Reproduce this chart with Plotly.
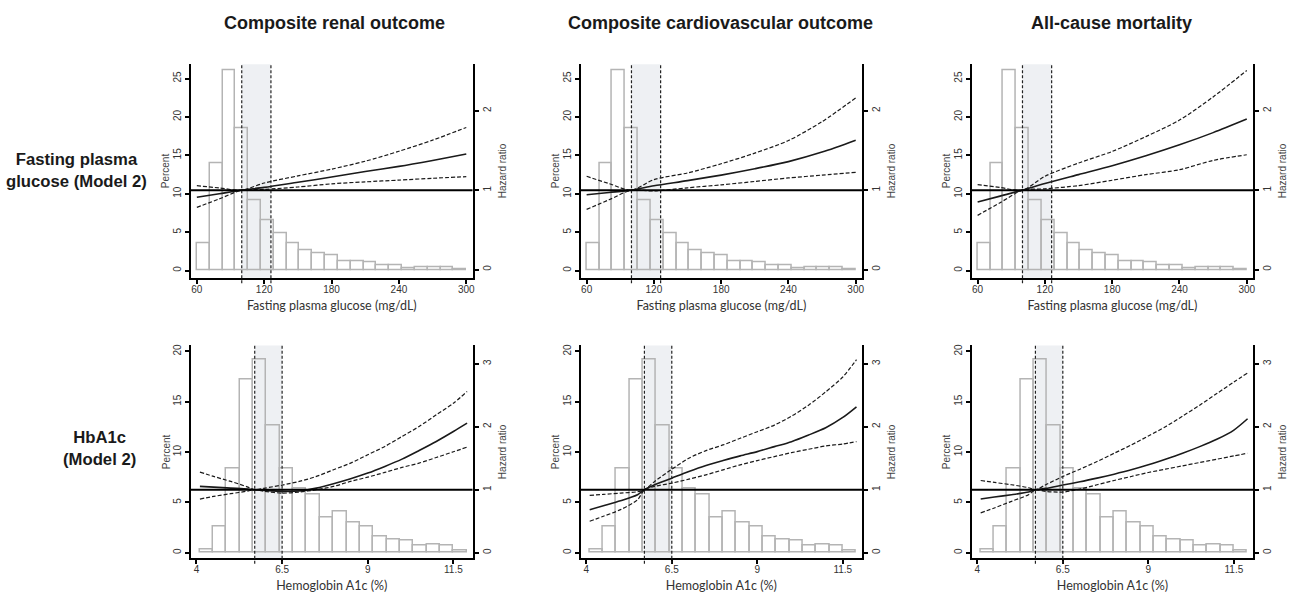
import plotly.graph_objects as go

# ---------------- data ----------------
col_titles = ["Composite renal outcome", "Composite cardiovascular outcome", "All-cause mortality"]
row_titles = ["Fasting plasma<br>glucose (Model 2)", "HbA1c<br>(Model 2)"]
x_titles = ["Fasting plasma glucose (mg/dL)", "Hemoglobin A1c (%)"]

# histogram of fasting plasma glucose (percent per bin)
fpg_bin_start = 60
fpg_bin_width = 240 / 21
fpg_pct = [3.5, 14.0, 26.1, 18.5, 9.1, 6.6, 4.85, 3.6, 2.6, 2.25, 1.95, 1.2, 1.25, 1.1,
           0.7, 0.65, 0.26, 0.48, 0.5, 0.4, 0.17]
fpg_cut = [100, 126]
fpg_ticks = [60, 120, 180, 240, 300]

# histogram of HbA1c (percent per bin)
a1c_bin_start = 4.09
a1c_bin_width = 0.39
a1c_pct = [0.33, 2.64, 8.36, 17.2, 19.2, 12.66, 8.36, 6.4, 5.8, 3.47, 4.07, 3.0, 2.58, 1.62,
           1.32, 1.19, 0.69, 0.83, 0.73, 0.26]
a1c_cut = [5.7, 6.5]
a1c_ticks = [4, 6.5, 9, 11.5]

# hazard ratio curves, fasting plasma glucose
fpg_x = [60, 80, 100, 120, 150, 180, 210, 240, 270, 300]
fpg_renal_hr = [0.91, 0.955, 1.0, 1.035, 1.10, 1.165, 1.235, 1.30, 1.375, 1.455]
fpg_renal_lo = [0.784, 0.89, 1.0, 1.01, 1.04, 1.08, 1.105, 1.127, 1.15, 1.17]
fpg_renal_hi = [1.057, 1.028, 1.0, 1.09, 1.18, 1.265, 1.365, 1.49, 1.63, 1.79]

fpg_cv_hr = [0.942, 0.971, 1.0, 1.055, 1.12, 1.19, 1.27, 1.36, 1.48, 1.63]
fpg_cv_lo = [0.758, 0.879, 1.0, 0.99, 1.03, 1.067, 1.11, 1.154, 1.19, 1.225]
fpg_cv_hi = [1.175, 1.083, 1.0, 1.133, 1.217, 1.333, 1.467, 1.625, 1.863, 2.163]

fpg_death_hr = [0.85, 0.925, 1.0, 1.083, 1.196, 1.308, 1.433, 1.571, 1.725, 1.896]
fpg_death_lo = [0.683, 0.842, 1.0, 1.017, 1.058, 1.125, 1.196, 1.258, 1.375, 1.446]
fpg_death_hi = [1.071, 1.035, 1.0, 1.175, 1.342, 1.488, 1.675, 1.883, 2.175, 2.508]

# hazard ratio curves, HbA1c
a1c_x = [4.1, 4.5, 5.0, 5.5, 5.7, 6.0, 6.5, 7.0, 7.5, 8.0, 8.5, 9.0, 9.5, 10.0, 10.5, 11.0, 11.5, 11.9]
a1c_renal_hr = [1.053, 1.042, 1.026, 1.011, 1.0, 0.989, 0.974, 0.979, 1.026, 1.095, 1.174, 1.264,
                1.37, 1.486, 1.623, 1.766, 1.924, 2.056]
a1c_renal_lo = [0.852, 0.894, 0.937, 0.979, 1.0, 0.974, 0.947, 0.963, 1.0, 1.053, 1.132, 1.2,
                1.275, 1.354, 1.423, 1.512, 1.602, 1.676]
a1c_renal_hi = [1.28, 1.211, 1.132, 1.042, 1.0, 1.026, 1.074, 1.132, 1.211, 1.317, 1.423, 1.555,
                1.687, 1.845, 2.004, 2.189, 2.373, 2.558]

a1c_cv_hr = [0.684, 0.747, 0.826, 0.921, 1.0, 1.079, 1.184, 1.289, 1.384, 1.463, 1.537, 1.605,
             1.684, 1.763, 1.868, 1.984, 2.147, 2.316]
a1c_cv_lo = [0.5, 0.579, 0.684, 0.842, 1.0, 1.053, 1.105, 1.168, 1.237, 1.316, 1.395, 1.463,
             1.526, 1.589, 1.642, 1.695, 1.726, 1.763]
a1c_cv_hi = [0.91, 0.926, 0.947, 0.968, 1.0, 1.132, 1.326, 1.5, 1.621, 1.711, 1.816, 1.921,
             2.026, 2.168, 2.342, 2.553, 2.789, 3.063]

a1c_death_hr = [0.853, 0.884, 0.921, 0.963, 1.0, 1.021, 1.074, 1.126, 1.184, 1.247, 1.316, 1.395,
                1.484, 1.579, 1.684, 1.8, 1.947, 2.126]
a1c_death_lo = [0.632, 0.711, 0.816, 0.921, 1.0, 0.974, 0.963, 1.011, 1.079, 1.147, 1.21, 1.274,
                1.326, 1.379, 1.432, 1.484, 1.537, 1.579]
a1c_death_hi = [1.147, 1.116, 1.079, 1.032, 1.0, 1.079, 1.21, 1.326, 1.447, 1.579, 1.71, 1.853,
                2.0, 2.168, 2.342, 2.526, 2.71, 2.853]

pct_ticks_top = [0, 5, 10, 15, 20, 25]
pct_ticks_bot = [0, 5, 10, 15, 20]
hr_ticks_top = [0, 1, 2]
hr_ticks_bot = [0, 1, 2, 3]

# ---------------- layout geometry ----------------
W, H = 1293, 595
col_px = [(191.3, 473.3), (581.7, 863.3), (973.3, 1255.0)]
row_px = [(63.3, 277.3), (345.0, 558.3)]
x_rng = [[54.8, 305.6], [3.84, 12.06]]
pct_rng = [[-0.95, 26.87], [-0.56, 20.6]]
hr_rng = [[-0.104, 2.587], [-0.089, 3.29]]

rows = [
    dict(bin_start=fpg_bin_start, bin_width=fpg_bin_width, pct=fpg_pct, cut=fpg_cut,
         xt=fpg_ticks, x=fpg_x, pt=pct_ticks_top, ht=hr_ticks_top,
         curves=[(fpg_renal_hr, fpg_renal_lo, fpg_renal_hi),
                 (fpg_cv_hr, fpg_cv_lo, fpg_cv_hi),
                 (fpg_death_hr, fpg_death_lo, fpg_death_hi)]),
    dict(bin_start=a1c_bin_start, bin_width=a1c_bin_width, pct=a1c_pct, cut=a1c_cut,
         xt=a1c_ticks, x=a1c_x, pt=pct_ticks_bot, ht=hr_ticks_bot,
         curves=[(a1c_renal_hr, a1c_renal_lo, a1c_renal_hi),
                 (a1c_cv_hr, a1c_cv_lo, a1c_cv_hi),
                 (a1c_death_hr, a1c_death_lo, a1c_death_hi)]),
]

TICKFONT = dict(family="Liberation Sans, Arial, sans-serif", size=10, color="#333333")
TITLEFONT = dict(family="Liberation Sans, Arial, sans-serif", size=10, color="#444444")
XTITLEFONT = dict(family="Lato, Open Sans, sans-serif", size=12.5, color="#333333")

fig = go.Figure()
layout = dict(width=W, height=H, margin=dict(l=0, r=0, t=0, b=0),
              paper_bgcolor="white", plot_bgcolor="rgba(0,0,0,0)",
              showlegend=False, shapes=[], annotations=[], bargap=0)

for r, rd in enumerate(rows):
    for c in range(3):
        i = r * 3 + c
        xa = "x" if i == 0 else f"x{i+1}"
        ya_l_n = 2 * i + 1
        ya_r_n = 2 * i + 2
        ya_l = "y" if ya_l_n == 1 else f"y{ya_l_n}"
        ya_r = f"y{ya_r_n}"
        x0p, x1p = col_px[c]
        y0p, y1p = row_px[r]
        xdom = [x0p / W, x1p / W]
        ydom = [1 - y1p / H, 1 - y0p / H]

        centers = [rd["bin_start"] + rd["bin_width"] * (k + 0.5) for k in range(len(rd["pct"]))]
        fig.add_trace(go.Bar(x=centers, y=rd["pct"], width=rd["bin_width"],
                             marker=dict(color="rgba(255,255,255,0)",
                                         line=dict(color="#b4b4b4", width=1.5)),
                             xaxis=xa, yaxis=ya_l, hoverinfo="skip"))
        hr, lo, hi = rd["curves"][c]
        for vals, dash, wd in [(lo, "4px,2px", 1.2), (hi, "4px,2px", 1.2), (hr, "solid", 1.6)]:
            fig.add_trace(go.Scatter(x=rd["x"], y=vals, mode="lines",
                                     line=dict(color="#1a1a1a", width=wd, dash=dash,
                                               shape="spline", smoothing=0.8),
                                     xaxis=xa, yaxis=ya_r, hoverinfo="skip"))

        xkey = "xaxis" if i == 0 else f"xaxis{i+1}"
        ylkey = "yaxis" if ya_l_n == 1 else f"yaxis{ya_l_n}"
        yrkey = f"yaxis{ya_r_n}"
        layout[xkey] = dict(domain=xdom, range=x_rng[r], anchor=ya_l,
                            showline=True, linecolor="black", linewidth=2,
                            ticks="outside", ticklen=4, tickwidth=1.5, tickcolor="black",
                            tickvals=rd["xt"], ticktext=[str(v) for v in rd["xt"]],
                            tickfont=TICKFONT, showgrid=False, zeroline=False,
                            ticklabelstandoff=-3,
                            title=dict(text=x_titles[r], font=XTITLEFONT, standoff=7))
        layout[ylkey] = dict(domain=ydom, range=pct_rng[r], anchor=xa,
                             showline=True, linecolor="black", linewidth=2,
                             ticks="outside", ticklen=4, tickwidth=1.5, tickcolor="black",
                             tickvals=rd["pt"], tickangle=-90, tickfont=TICKFONT,
                             showgrid=False, zeroline=False,
                             title=dict(text="Percent", font=TITLEFONT, standoff=0))
        layout[yrkey] = dict(domain=ydom, range=hr_rng[r], anchor=xa, overlaying=ya_l,
                             side="right",
                             showline=True, linecolor="black", linewidth=2,
                             ticks="outside", ticklen=4, tickwidth=1.5, tickcolor="black",
                             tickvals=rd["ht"], tickangle=-90, tickfont=TICKFONT,
                             showgrid=False, zeroline=False,
                             title=dict(text="Hazard ratio", font=TITLEFONT, standoff=7))
        # shaded band between cut-offs
        layout["shapes"].append(dict(type="rect", xref=xa, yref=f"{ya_l} domain",
                                     x0=rd["cut"][0], x1=rd["cut"][1], y0=0, y1=1,
                                     fillcolor="#eef0f3", line=dict(width=0), layer="below"))
        for cv in rd["cut"]:
            layout["shapes"].append(dict(type="line", xref=xa, yref=f"{ya_l} domain",
                                         x0=cv, x1=cv, y0=-0.025, y1=1,
                                         line=dict(color="#222222", width=1.2, dash="3px,2px"),
                                         layer="above"))
        # reference line HR = 1
        layout["shapes"].append(dict(type="line", xref=f"{xa} domain", yref=ya_r,
                                     x0=0, x1=1, y0=1, y1=1,
                                     line=dict(color="black", width=2), layer="above"))

col_centers = [335, 722, 1113]
for c, t in enumerate(col_titles):
    layout["annotations"].append(dict(text=f"<b>{t}</b>", x=col_centers[c] / W, y=1 - 22 / H,
                                      xref="paper", yref="paper", showarrow=False,
                                      xanchor="center", yanchor="middle",
                                      font=dict(family="Liberation Sans, Arial, sans-serif",
                                                size=18, color="#1a1a1a")))
row_pos = [(77, 170), (100, 448)]
for r, t in enumerate(row_titles):
    layout["annotations"].append(dict(text=f"<b>{t}</b>", x=row_pos[r][0] / W, y=1 - row_pos[r][1] / H,
                                      xref="paper", yref="paper", showarrow=False,
                                      xanchor="center", yanchor="middle", align="center",
                                      font=dict(family="Liberation Sans, Arial, sans-serif",
                                                size=16.7, color="#1a1a1a")))

fig.update_layout(**layout)
fig.write_html("out.html", config={"displayModeBar": False},
               post_script="document.body.style.margin='0px';document.body.style.overflow='hidden';")
